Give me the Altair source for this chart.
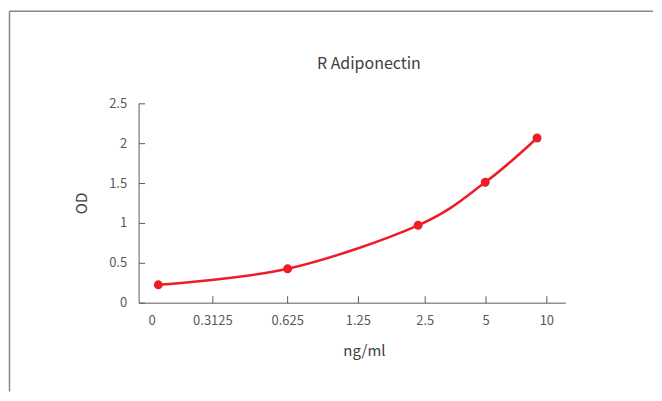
import altair as alt
import pandas as pd

# concentration labels (ng/ml) and their positions along the x axis (slot units)
tick_labels = ["0", "0.3125", "0.625", "1.25", "2.5", "5", "10"]
tick_pos = [0.0, 0.924, 2.061, 3.136, 4.152, 5.076, 6.0]

# OD axis ticks
od_ticks = [0, 0.5, 1, 1.5, 2, 2.5]

# measured standard points
point_pos = [0.102, 2.068, 4.051, 5.071, 5.859]
od_values = [0.224, 0.425, 0.97, 1.51, 2.065]

chart_title = "R Adiponectin"

df = pd.DataFrame({"pos": point_pos, "od": od_values})

RED = "#ee1c25"
GRAY = "#595959"
FONT = "Noto Sans CJK SC"

label_expr = " : ".join(
    f"datum.value == {p} ? '{l}'" for p, l in zip(tick_pos, tick_labels)
) + " : ''"

xscale = alt.Scale(domain=[-0.197, 6.288], nice=False, zero=False)
yscale = alt.Scale(domain=[0, 2.5], nice=False)

xaxis = alt.Axis(
    values=tick_pos,
    tickCount=20,
    labelExpr=label_expr,
    title="ng/ml",
    grid=False,
    tickSize={"expr": "-7"},
    tickOpacity={"condition": {"test": "datum.value == 0", "value": 0}, "value": 1},
    labelPadding=19,
    labelOverlap=False,
    titleX=226,
    titleY=53,
    titleBaseline="alphabetic",
    titleAlign="center",
)
yaxis = alt.Axis(
    values=od_ticks,
    tickCount=20,
    labelExpr="'' + datum.value",
    title="OD",
    grid=False,
    tickSize={"expr": "-6"},
    labelPadding=18,
    labelOverlap=False,
    titleX=-57,
    titleY=100,
    titleAlign="center",
    titleBaseline="middle",
    titleAngle=-90,
)

base = alt.Chart(df)
line = base.mark_line(color=RED, strokeWidth=2.5, interpolate="cardinal").encode(
    x=alt.X("pos:Q", scale=xscale, axis=xaxis),
    y=alt.Y("od:Q", scale=yscale, axis=yaxis),
)
pts = base.mark_circle(color=RED, size=80, opacity=1).encode(
    x=alt.X("pos:Q", scale=xscale),
    y=alt.Y("od:Q", scale=yscale),
)

frame_data = alt.Data(values=[{"t": chart_title}])
top_rule = alt.Chart(frame_data).mark_rule(color="#888888", strokeWidth=1.5).encode(
    x=alt.value(-129.5), x2=alt.value(516), y=alt.value(-92.3)
)
left_rule = alt.Chart(frame_data).mark_rule(color="#888888", strokeWidth=1.5).encode(
    x=alt.value(-129.5), y=alt.value(-92.3), y2=alt.value(289)
)
title_text = alt.Chart(frame_data).mark_text(
    font=FONT, fontSize=16, color="#404040", align="center", baseline="alphabetic"
).encode(x=alt.value(231), y=alt.value(-34), text="t:N")

chart = alt.layer(top_rule, left_rule, title_text, line, pts).properties(
    width=428,
    height=200,
    padding={"top": 1, "left": 0, "right": 0, "bottom": 0},
).configure_view(stroke=None).configure_axis(
    domainColor=GRAY,
    tickColor=GRAY,
    labelColor=GRAY,
    titleColor="#404040",
    labelFont=FONT,
    titleFont=FONT,
    labelFontSize=13,
    titleFontSize=15,
    titleFontWeight="normal",
    domainWidth=1,
    tickWidth=1,
)

chart.save("out.html", embed_options={"renderer": "svg", "actions": False})
